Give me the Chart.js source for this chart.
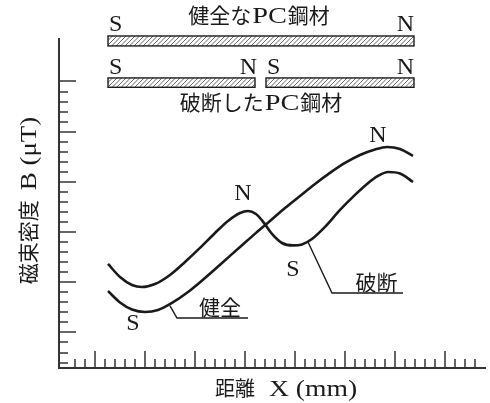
<!DOCTYPE html>
<html>
<head>
<meta charset="utf-8">
<script src="https://cdn.jsdelivr.net/npm/chart.js@4/dist/chart.umd.min.js"></script>
<style>
  html, body { margin: 0; padding: 0; background: #fff; }
  #wrap { width: 490px; height: 403px; position: relative; }
</style>
</head>
<body>
<div id="wrap"><canvas id="c"></canvas></div>
<script>
// Distance along the strand (one unit = one minor tick) and flux density readings.
const distSound = [1.3, 2.5, 3.7, 5.0, 6.3, 7.7, 9.3, 11.0, 12.7, 14.5, 16.1, 17.5, 19.0, 20.5, 22.0, 23.5, 25.0, 26.5, 28.0, 29.2, 30.5, 31.8];
const fluxSound = [4.13, 2.99, 2.29, 2.04, 2.24, 2.94, 4.03, 5.43, 6.92, 8.52, 9.92, 11.11, 12.40, 13.60, 14.79, 15.89, 16.88, 17.68, 18.23, 18.48, 18.28, 17.58];

const distBroken = [1.3, 2.5, 3.7, 4.7, 6.0, 7.5, 9.0, 10.5, 12.0, 13.3, 14.5, 15.3, 16.1, 16.9, 17.7, 18.7, 19.8, 20.7, 21.7, 23.0, 24.5, 26.0, 27.2, 28.3, 29.3, 30.5, 31.8];
const fluxBroken = [6.82, 5.53, 4.73, 4.53, 4.83, 5.73, 7.02, 8.42, 9.91, 11.11, 11.90, 12.10, 11.80, 10.91, 9.81, 8.91, 8.67, 8.77, 9.31, 10.51, 12.20, 13.70, 14.79, 15.59, 15.99, 15.84, 14.99];

// Axis ranges and tick layout (no numeric labels on this diagram).
const xRange = [-3.6, 39];
const yRange = [-3.54, 29.23];
const xTickRange = [-2, 38];
const yTickRange = [-3, 25];
const majorEvery = 5;

const CJK = '"Noto Sans CJK JP", "Noto Sans", sans-serif';
const SERIF = '"Liberation Serif", "DejaVu Serif", serif';
const INK = '#1a1a1a';

function toPoints(xs, ys) { return xs.map((v, i) => ({ x: v, y: ys[i] })); }

// Draw a row of text runs (mixed fonts, optional horizontal stretch) centred on cx, on baseline by.
function drawRuns(ctx, runs, cx, by) {
  let total = 0;
  const widths = runs.map(r => {
    ctx.font = r.font;
    const w = ctx.measureText(r.text).width * (r.sx || 1);
    total += w + (r.gap || 0);
    return w;
  });
  let x = cx - total / 2;
  ctx.textAlign = 'left';
  ctx.textBaseline = 'alphabetic';
  runs.forEach((r, i) => {
    x += (r.gap || 0);
    ctx.font = r.font;
    ctx.save();
    ctx.translate(x, by);
    ctx.scale(r.sx || 1, 1);
    ctx.fillText(r.text, 0, 0);
    ctx.restore();
    x += widths[i];
  });
}

function hatchedBar(ctx, x0, y0, x1, y1) {
  const w = x1 - x0, h = y1 - y0;
  ctx.save();
  ctx.fillStyle = '#fff';
  ctx.fillRect(x0, y0, w, h);
  ctx.beginPath();
  ctx.rect(x0, y0, w, h);
  ctx.clip();
  ctx.strokeStyle = '#666';
  ctx.lineWidth = 1;
  for (let s = x0 - h; s < x1 + h; s += 4.5) {
    ctx.beginPath();
    ctx.moveTo(s, y1);
    ctx.lineTo(s + h, y0);
    ctx.stroke();
  }
  ctx.restore();
  ctx.save();
  ctx.strokeStyle = INK;
  ctx.lineWidth = 1.4;
  ctx.strokeRect(x0, y0, w, h);
  ctx.restore();
}

const diagram = {
  id: 'diagram',
  afterDraw(chart) {
    const { ctx, chartArea, scales: { x, y } } = chart;
    const X = v => x.getPixelForValue(v);
    const Y = v => y.getPixelForValue(v);
    ctx.save();

    // inward ticks on both axes
    ctx.strokeStyle = '#333';
    ctx.lineWidth = 1.5;
    const ax = X(xRange[0]);
    const ay = Y(yRange[0]);
    for (let v = xTickRange[0]; v <= xTickRange[1]; v++) {
      const px = Math.round(X(v));
      const len = v % majorEvery === 0 ? 17 : 9;
      ctx.beginPath(); ctx.moveTo(px, ay); ctx.lineTo(px, ay - len); ctx.stroke();
    }
    for (let v = yTickRange[0]; v <= yTickRange[1]; v++) {
      const py = Math.round(Y(v));
      const len = v % majorEvery === 0 ? 17 : 9;
      ctx.beginPath(); ctx.moveTo(ax, py); ctx.lineTo(ax + len, py); ctx.stroke();
    }

    // strand sketches: sound strand and broken strand
    hatchedBar(ctx, X(1.3), Y(29.53), X(31.9), Y(28.54));
    hatchedBar(ctx, X(1.3), Y(25.35), X(16.0), Y(24.42));
    hatchedBar(ctx, X(17.1), Y(25.35), X(31.9), Y(24.42));

    ctx.fillStyle = INK;
    const pole = '24px ' + SERIF;
    ctx.font = pole;
    ctx.textBaseline = 'alphabetic';
    ctx.textAlign = 'left';
    ctx.fillText('S', X(1.4), Y(30.03));
    ctx.fillText('S', X(1.4), Y(25.75));
    ctx.fillText('S', X(17.2), Y(25.75));
    ctx.textAlign = 'right';
    ctx.fillText('N', X(31.9), Y(30.03));
    ctx.fillText('N', X(16.2), Y(25.75));
    ctx.fillText('N', X(31.9), Y(25.75));

    drawRuns(ctx, [
      { text: '健全な', font: '21px ' + CJK },
      { text: 'PC', font: '24px ' + SERIF, sx: 1.18, gap: 1 },
      { text: '鋼材', font: '21px ' + CJK, gap: 1 }
    ], X(16.4), Y(30.83));
    drawRuns(ctx, [
      { text: '破断した', font: '21px ' + CJK },
      { text: 'PC', font: '24px ' + SERIF, sx: 1.18, gap: 1 },
      { text: '鋼材', font: '21px ' + CJK, gap: 1 }
    ], X(16.6), Y(22.16));

    // pole labels on the curves
    ctx.textAlign = 'center';
    ctx.font = pole;
    ctx.fillText('N', X(14.8), Y(13.2));
    ctx.fillText('S', X(19.8), Y(5.63));
    ctx.fillText('N', X(28.3), Y(18.97));
    ctx.fillText('S', X(3.8), Y(0.25));

    // leader lines and curve names
    ctx.strokeStyle = INK;
    ctx.lineWidth = 1.4;
    ctx.beginPath();
    ctx.moveTo(X(7.5), Y(2.64)); ctx.lineTo(X(8.2), Y(1.44)); ctx.lineTo(X(15.3), Y(1.44));
    ctx.stroke();
    ctx.beginPath();
    ctx.moveTo(X(21.3), Y(9.01)); ctx.lineTo(X(23.7), Y(3.93)); ctx.lineTo(X(30.8), Y(3.93));
    ctx.stroke();
    drawRuns(ctx, [{ text: '健全', font: '21px ' + CJK }], X(12.5), Y(1.74));
    drawRuns(ctx, [{ text: '破断', font: '21px ' + CJK }], X(28.15), Y(4.23));

    // axis titles
    const midX = (chartArea.left + chartArea.right) / 2;
    drawRuns(ctx, [
      { text: '距離', font: '20px ' + CJK },
      { text: 'X (mm)', font: '24px ' + SERIF, sx: 1.15, gap: 14 }
    ], midX + 14, 396);

    const midY = (chartArea.top + chartArea.bottom) / 2;
    ctx.translate(36, midY - 3);
    ctx.rotate(-Math.PI / 2);
    drawRuns(ctx, [
      { text: '磁束密度', font: '21px ' + CJK },
      { text: 'B (μT)', font: '24px ' + SERIF, sx: 1.12, gap: 10 }
    ], 0, 0);

    ctx.restore();
  }
};

const axisBorder = { display: true, color: '#333', width: 2 };

new Chart(document.getElementById('c'), {
  type: 'line',
  data: {
    datasets: [
      {
        label: '健全',
        data: toPoints(distSound, fluxSound),
        borderColor: INK,
        borderWidth: 2.6,
        pointRadius: 0,
        cubicInterpolationMode: 'monotone',
        fill: false
      },
      {
        label: '破断',
        data: toPoints(distBroken, fluxBroken),
        borderColor: INK,
        borderWidth: 2.6,
        pointRadius: 0,
        cubicInterpolationMode: 'monotone',
        fill: false
      }
    ]
  },
  options: {
    responsive: true,
    maintainAspectRatio: false,
    animation: false,
    devicePixelRatio: 1,
    layout: { padding: { top: 39, right: 5, left: 0, bottom: 0 } },
    plugins: { legend: { display: false }, tooltip: { enabled: false } },
    scales: {
      x: {
        type: 'linear',
        min: xRange[0],
        max: xRange[1],
        grid: { display: false },
        ticks: { display: false },
        border: axisBorder,
        afterFit(s) { s.height = 35; }
      },
      y: {
        type: 'linear',
        min: yRange[0],
        max: yRange[1],
        grid: { display: false },
        ticks: { display: false },
        border: axisBorder,
        afterFit(s) { s.width = 59; }
      }
    }
  },
  plugins: [diagram]
});
</script>
</body>
</html>
